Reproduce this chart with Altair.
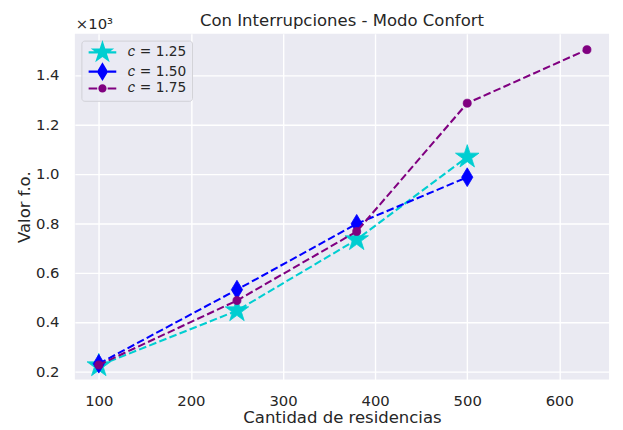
import altair as alt
import pandas as pd
import re

# ---- data ----
x_vals = [100, 250, 380, 500, 630]
series_names = ["1.25", "1.50", "1.75"]
c125 = [222, 445, 733, 1068]
c150 = [230, 530, 797, 986]
c175 = [225, 486, 766, 1286, 1503]
x_ticks = [100, 200, 300, 400, 500, 600]
y_ticks = [0.2, 0.4, 0.6, 0.8, 1.0, 1.2, 1.4]
colors = ["#00CED1", "#0000FF", "#800080"]
title_text = "Con Interrupciones - Modo Confort"
x_title = "Cantidad de residencias"
y_title = "Valor f.o."
offset_text = "×10³"

rows = []
for name, vals in zip(series_names, [c125, c150, c175]):
    for xv, v in zip(x_vals, vals):
        rows.append({"n": xv, "valor": v, "c": name})
df = pd.DataFrame(rows)

FONT = "DejaVu Sans"
TXT = "#262626"
W, H = 541, 350

# marker paths (unit coords, scaled by sqrt(size)/2)
STAR = ("M0,-1L0.2245,-0.309L0.9511,-0.309L0.3633,0.118L0.5878,0.809L0,0.382"
        "L-0.5878,0.809L-0.3633,0.118L-0.9511,-0.309L-0.2245,-0.309Z")
TDIAM = "M0,-1L0.6,0L0,1L-0.6,0Z"


def scaled(path, k):
    res = ""
    for t in re.findall(r"[A-Za-z]|-?\d*\.?\d+", path):
        if t.isalpha():
            res += t
        else:
            res += ("%.4f" % (float(t) * k)).rstrip("0").rstrip(".") + ","
    return res.replace(",M", "M").replace(",L", "L").replace(",Z", "Z").replace(",A", "A")


# legend symbols: dashes + marker, in units of 5px (symbolSize 100)
u = 5.0
hl = 0.208
d1a, d1b = -14 / u, -5.3 / u
dashes = (f"M{d1a:.3f},{-hl}L{d1b:.3f},{-hl}L{d1b:.3f},{hl}L{d1a:.3f},{hl}Z"
          f"M{-d1b:.3f},{-hl}L{-d1a:.3f},{-hl}L{-d1a:.3f},{hl}L{-d1b:.3f},{hl}Z")
r = 4.15 / u
circ_leg = f"M{r:.3f},0A{r:.3f},{r:.3f},0,1,1,{-r:.3f},0A{r:.3f},{r:.3f},0,1,1,{r:.3f},0Z"
legend_paths = [
    dashes + scaled(STAR, 12.5 / u),
    dashes + "M0,-1.9L1.14,0L0,1.9L-1.14,0Z",
    dashes + circ_leg,
]

xenc = alt.X("n:Q",
             scale=alt.Scale(domain=[74, 654], nice=False, zero=False),
             axis=alt.Axis(values=x_ticks, title=x_title, format="d",
                           labelPadding=14, titleBaseline="alphabetic", titleY=44))
yenc = alt.Y("vk:Q",
             scale=alt.Scale(domain=[0.166, 1.567], nice=False, zero=False),
             axis=alt.Axis(values=y_ticks, title=y_title, format=".1f",
                           labelPadding=16, titleBaseline="alphabetic", titleX=-46))

base = alt.Chart(df).transform_calculate(vk="datum.valor / 1000")

marker_specs = [
    dict(shape=STAR, size=625),
    dict(shape=TDIAM, size=361),
    dict(shape="circle", size=66),
]

layers = []
for name, col, ms in zip(series_names, colors, marker_specs):
    sub = base.transform_filter(alt.datum.c == name)
    layers.append(sub.mark_line(color=col, strokeWidth=2.08, strokeDash=[7.7, 3.3])
                  .encode(x=xenc, y=yenc))
    layers.append(sub.mark_point(filled=True, opacity=1, color=col, stroke=col,
                                 strokeWidth=0.8, shape=ms["shape"], size=ms["size"])
                  .encode(x=xenc, y=yenc))

leg = alt.Legend(title=None, orient="none", legendX=6.6, legendY=6.8, padding=5,
                 fillColor="rgba(234,234,242,0.8)", strokeColor="#d0d0d6",
                 cornerRadius=3, symbolSize=100, symbolStrokeWidth=0,
                 symbolOffset=9.4, labelOffset=19.4, labelFontSize=13.9,
                 labelFont=FONT, labelColor=TXT, rowPadding=-1.5, symbolOpacity=1,
                 labelExpr="'𝑐 = ' + datum.label")

legend_layer = base.transform_filter("false").mark_point(filled=True, opacity=1).encode(
    x=xenc, y=yenc,
    color=alt.Color("c:N", scale=alt.Scale(domain=series_names, range=colors), legend=leg),
    shape=alt.Shape("c:N", scale=alt.Scale(domain=series_names, range=legend_paths), legend=leg),
)
layers.append(legend_layer)

offset_layer = alt.Chart(pd.DataFrame({"t": [offset_text]})).mark_text(
    align="left", baseline="alphabetic", fontSize=15, font=FONT, color=TXT
).encode(x=alt.value(1), y=alt.value(-4.8), text="t:N")
layers.append(offset_layer)

title_layer = alt.Chart(pd.DataFrame({"t": [title_text]})).mark_text(
    align="center", baseline="alphabetic", fontSize=16.7, font=FONT, color=TXT
).encode(x=alt.value(W / 2), y=alt.value(-7.5), text="t:N")
layers.append(title_layer)

chart = alt.layer(*layers).properties(
    width=W, height=H,
    autosize=alt.AutoSizeParams(type="none"),
    padding={"left": 67.7, "top": 23.5, "right": 6, "bottom": 52},
    background="white",
).configure_view(
    fill="#EAEAF2", stroke=None
).configure_axis(
    grid=True, gridColor="white", gridWidth=1.4, domain=False, ticks=False,
    labelFont=FONT, labelFontSize=15, labelColor=TXT,
    titleFont=FONT, titleFontSize=16.7, titleFontWeight="normal", titleColor=TXT,
)

chart.save("out.html", embed_options={"renderer": "svg", "actions": False})
